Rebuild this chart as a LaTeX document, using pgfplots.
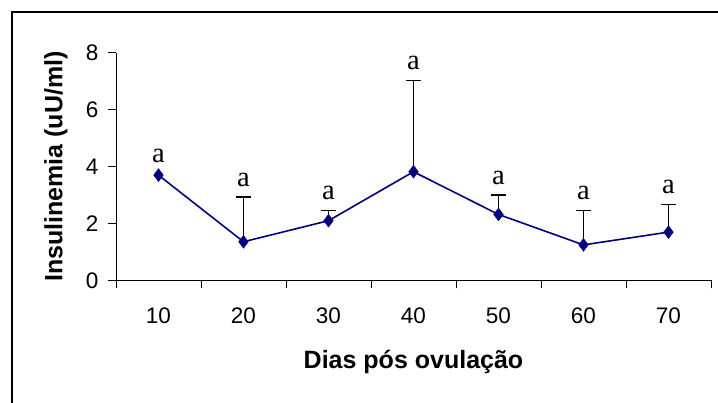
\documentclass[border=0pt]{standalone}
\usepackage{pgfplots}
\pgfplotsset{compat=1.18}
\usepackage{fontspec}
\setmainfont{Liberation Sans}
\newfontfamily\serifa{Liberation Serif}
\definecolor{navyline}{RGB}{0,0,128}
\begin{document}
\begin{tikzpicture}
\useasboundingbox (0pt,0pt) rectangle (718pt,403pt);
\draw[line width=2pt] (12pt,-2pt) -- (12pt,391pt) -- (720pt,391pt);
\begin{axis}[
  at={(116pt,122.5pt)}, anchor=south west,
  scale only axis, width=595pt, height=227.8pt,
  xmin=-0.5, xmax=6.5, ymin=0, ymax=8,
  axis x line=bottom, axis y line=left,
  axis line style={-, line width=0.8pt},
  xtick={0,...,6}, xticklabels={10,20,30,40,50,60,70},
  minor xtick={-0.5,0.5,...,6.5},
  major x tick style={draw=none},
  minor tick length=8pt,
  ytick={0,2,4,6,8},
  major tick length=8pt,
  tick align=outside,
  tick style={black, line width=0.8pt},
  /pgf/number format/assume math mode=true,
  ticklabel style={font=\fontsize{22.5}{24}\selectfont},
  xticklabel style={anchor=center, yshift=-27pt},
  yticklabel style={anchor=east, xshift=-6pt},
  xlabel={\textbf{Dias pós ovulação}},
  ylabel={\textbf{Insulinemia (uU/ml)}},
  label style={font=\fontsize{25}{28}\selectfont},
  xlabel style={at={(axis description cs:0.5,-0.3565)}, anchor=center},
  ylabel style={at={(axis description cs:-0.1008,0.5)}, anchor=center},
  clip=false,
]
% error bars (upper only)
\addplot[draw=none, mark=none, forget plot,
  error bars/.cd, y dir=plus, y explicit,
  error bar style={black, line width=1.2pt},
  error mark options={black, line width=1.2pt, mark size=7.5pt, rotate=90}]
  coordinates {
  (1,1.36) +- (0,1.57)
  (2,2.10) +- (0,0.37)
  (3,3.82) +- (0,3.21)
  (4,2.32) +- (0,0.68)
  (5,1.25) +- (0,1.20)
  (6,1.70) +- (0,0.96)
};
\addplot[navyline, line width=1.6pt, mark=diamond*,
  mark options={fill=navyline, draw=navyline, mark size=6.5pt, line width=0.3pt}]
  coordinates {(0,3.70) (1,1.36) (2,2.10) (3,3.82) (4,2.32) (5,1.25) (6,1.70)};
% significance letters
\addplot[draw=none, mark=none,
  nodes near coords={a},
  every node near coord/.append style={font=\serifa\fontsize{28.5}{30}\selectfont, anchor=base, inner sep=0pt, yshift=11pt, black}]
  coordinates {(0,3.77) (1,2.93) (2,2.47) (3,7.03) (4,3.00) (5,2.45) (6,2.66)};
\end{axis}
\end{tikzpicture}
\end{document}
